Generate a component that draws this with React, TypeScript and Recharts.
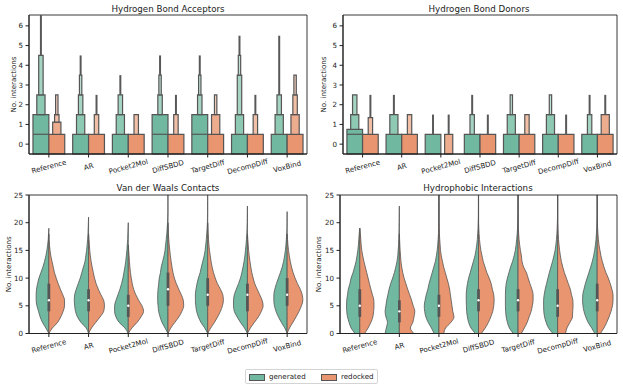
import React from "react";
import { ComposedChart, XAxis, YAxis, ReferenceArea, ReferenceLine, ReferenceDot, Area, Scatter } from "recharts";

const METHODS = ["Reference", "AR", "Pocket2Mol", "DiffSBDD", "TargetDiff", "DecompDiff", "VoxBind"];
const METHOD_TICKS = [0, 1, 2, 3, 4, 5, 6];
const COUNT_TICKS = [0, 1, 2, 3, 4, 5, 6];
const CONTACT_TICKS = [0, 5, 10, 15, 20, 25];

// letter-value boxes: upper edge of each level (level 0 = widest), null = level not drawn
const accGenTops = [[1.5, 2.5, 4.5], [0.5, 1.5, 2.5, 3.5], [0.5, 1.5, 2.5], [1.5, null, 2.5, 3.5], [1.5, null, 2.5, 3.5], [0.5, 1.5, 3.5, 4.5], [0.5, 1.5, 2.5]];
const accGenMax = [7, 4.5, 3.5, 4.5, 4.5, 5.5, 5.5];
const accGenMedian = [0.5, null, null, 0.5, 0.5, null, null];
const accRedTops = [[0.5, 1.12, 1.5, 2.5], [0.5, null, 1.5], [0.5, null, 1.5], [0.5, null, 1.5], [0.5, 1.5, null, 2.5], [0.5, null, 1.5], [0.5, 1.5, 2.5, 3.5]];
const accRedMax = [2.5, 2.5, 1.5, 2.5, 2.5, 2.5, 3.5];
const accRedMedian = [null, null, null, null, null, null, null];

const donGenTops = [[0.75, 1.5, 2.5], [0.5, 1.5], [0.5], [0.5, null, 1.5], [0.5, 1.5, null, 2.5], [0.5, 1.5, null, 2.5], [0.5, null, 1.5]];
const donGenMax = [2.5, 2.5, 1.5, 2.5, 2.5, 2.5, 2.5];
const donGenMedian = [0.5, null, null, null, null, null, null];
const donRedTops = [[0.5, null, 1.34], [0.5, null, 1.5], [null, 0.5], [0.5], [0.5, null, 1.5], [0.5], [0.5, 1.5]];
const donRedMax = [2.5, 1.5, 1.5, 1.5, 1.5, 1.5, 2.5];
const donRedMedian = [null, null, null, null, null, null, null];

// violin half widths (in category units) sampled at VIOLIN_Y
const VIOLIN_Y = [0, 1, 2, 3, 4, 5, 6, 7, 8, 9, 10, 11, 12, 13, 14, 15, 16, 17, 18, 19, 20, 21, 22, 23, 24, 25];

const vdwGen = [
  [0, 0.076, 0.16, 0.22, 0.26, 0.3, 0.32, 0.32, 0.31, 0.285, 0.25, 0.2, 0.15, 0.11, 0.075, 0.05, 0.03, 0.015, 0.008, 0],
  [0, 0.06, 0.19, 0.28, 0.33, 0.35, 0.36, 0.35, 0.31, 0.26, 0.21, 0.17, 0.13, 0.09, 0.07, 0.05, 0.035, 0.025, 0.015, 0.01, 0.005, 0],
  [0, 0.085, 0.23, 0.31, 0.345, 0.345, 0.31, 0.26, 0.21, 0.17, 0.135, 0.11, 0.085, 0.065, 0.05, 0.035, 0.025, 0.015, 0.01, 0.005, 0],
  [0, 0.075, 0.15, 0.2, 0.235, 0.25, 0.26, 0.26, 0.25, 0.235, 0.22, 0.19, 0.17, 0.135, 0.1, 0.075, 0.06, 0.045, 0.03, 0.02, 0.012, 0.006, 0.003, 0.003, 0.003, 0.003],
  [0, 0.075, 0.17, 0.235, 0.28, 0.3, 0.31, 0.31, 0.295, 0.27, 0.235, 0.19, 0.16, 0.125, 0.09, 0.065, 0.05, 0.035, 0.025, 0.015, 0.008, 0.004, 0.003, 0.003, 0.003, 0.003],
  [0, 0.075, 0.175, 0.26, 0.33, 0.35, 0.35, 0.33, 0.28, 0.225, 0.175, 0.14, 0.11, 0.085, 0.065, 0.05, 0.035, 0.025, 0.015, 0.01, 0.005, 0.003, 0.002, 0],
  [0, 0.06, 0.145, 0.22, 0.28, 0.32, 0.335, 0.335, 0.31, 0.27, 0.22, 0.17, 0.125, 0.09, 0.065, 0.045, 0.03, 0.02, 0.01, 0.005, 0.003, 0.002, 0],
];
const vdwRed = [
  [0, 0.09, 0.22, 0.3, 0.36, 0.395, 0.395, 0.35, 0.29, 0.235, 0.185, 0.14, 0.11, 0.08, 0.05, 0.03, 0.015, 0.005, 0],
  [0, 0.075, 0.18, 0.29, 0.38, 0.4, 0.38, 0.31, 0.245, 0.19, 0.15, 0.12, 0.09, 0.065, 0.045, 0.03, 0.02, 0.01, 0],
  [0, 0.09, 0.22, 0.32, 0.385, 0.345, 0.26, 0.19, 0.135, 0.1, 0.075, 0.055, 0.04, 0.03, 0.02, 0.01, 0],
  [0, 0.07, 0.17, 0.275, 0.35, 0.395, 0.385, 0.335, 0.27, 0.21, 0.16, 0.125, 0.1, 0.08, 0.06, 0.045, 0.03, 0.02, 0.01, 0.005, 0],
  [0, 0.075, 0.17, 0.25, 0.32, 0.37, 0.395, 0.38, 0.32, 0.245, 0.19, 0.145, 0.11, 0.085, 0.065, 0.045, 0.03, 0.02, 0.012, 0.006, 0],
  [0, 0.075, 0.175, 0.275, 0.35, 0.395, 0.37, 0.31, 0.245, 0.185, 0.145, 0.11, 0.085, 0.065, 0.045, 0.03, 0.02, 0.01, 0],
  [0, 0.06, 0.145, 0.225, 0.3, 0.36, 0.395, 0.38, 0.33, 0.26, 0.2, 0.15, 0.11, 0.08, 0.055, 0.035, 0.02, 0.01, 0],
];
const vdwQ1 = [4, 4, 3, 5, 5, 4, 5];
const vdwQ3 = [9, 8, 7, 11, 10, 9, 10];
const vdwMedian = [6, 6, 5, 8, 7, 7, 7];

const hydGen = [
  [0.12, 0.22, 0.27, 0.31, 0.33, 0.335, 0.33, 0.31, 0.29, 0.25, 0.22, 0.17, 0.13, 0.095, 0.07, 0.05, 0.035, 0.025, 0.015, 0],
  [0.36, 0.33, 0.3, 0.34, 0.36, 0.34, 0.32, 0.29, 0.26, 0.22, 0.17, 0.125, 0.09, 0.06, 0.04, 0.03, 0.02, 0.015, 0.01, 0.007, 0.005, 0.003, 0.002, 0],
  [0.12, 0.19, 0.27, 0.33, 0.36, 0.37, 0.35, 0.32, 0.28, 0.25, 0.21, 0.17, 0.13, 0.09, 0.065, 0.045, 0.03, 0.02, 0.012, 0.006, 0.004, 0.003, 0.003, 0.003, 0.003, 0.003],
  [0.08, 0.19, 0.25, 0.28, 0.3, 0.305, 0.31, 0.31, 0.3, 0.28, 0.25, 0.21, 0.17, 0.13, 0.09, 0.065, 0.045, 0.03, 0.02, 0.012, 0.008, 0.004, 0.003, 0.003, 0.003, 0.003],
  [0.12, 0.22, 0.27, 0.3, 0.315, 0.32, 0.32, 0.32, 0.315, 0.3, 0.27, 0.23, 0.19, 0.14, 0.1, 0.07, 0.05, 0.035, 0.022, 0.014, 0.008, 0.004, 0.003, 0.003, 0.003, 0.003],
  [0.12, 0.23, 0.29, 0.33, 0.35, 0.355, 0.355, 0.34, 0.315, 0.28, 0.245, 0.21, 0.17, 0.13, 0.095, 0.065, 0.045, 0.03, 0.02, 0.012, 0.007, 0.004, 0.003, 0.003, 0.003, 0.003],
  [0.06, 0.14, 0.23, 0.29, 0.335, 0.36, 0.37, 0.365, 0.335, 0.3, 0.255, 0.21, 0.165, 0.125, 0.09, 0.065, 0.045, 0.03, 0.02, 0.012, 0.007, 0.004, 0.003, 0.003, 0.003, 0.003],
];
const hydRed = [
  [0.12, 0.21, 0.28, 0.33, 0.35, 0.36, 0.355, 0.32, 0.28, 0.245, 0.21, 0.175, 0.14, 0.105, 0.075, 0.05, 0.035, 0.025, 0.015, 0],
  [0.37, 0.28, 0.34, 0.37, 0.39, 0.35, 0.31, 0.26, 0.21, 0.165, 0.12, 0.085, 0.06, 0.04, 0.03, 0.02, 0.012, 0.006, 0],
  [0.12, 0.17, 0.3, 0.38, 0.35, 0.33, 0.31, 0.29, 0.27, 0.24, 0.2, 0.16, 0.12, 0.09, 0.06, 0.04, 0.03, 0.02, 0.012, 0.006, 0.002, 0.002, 0.002, 0.002, 0.002, 0.002],
  [0.07, 0.17, 0.25, 0.31, 0.36, 0.385, 0.395, 0.385, 0.35, 0.32, 0.27, 0.21, 0.165, 0.12, 0.09, 0.06, 0.04, 0.025, 0.015, 0.008, 0.003, 0.003, 0.003, 0.003, 0.003, 0.003],
  [0.08, 0.16, 0.23, 0.28, 0.33, 0.36, 0.38, 0.38, 0.35, 0.3, 0.255, 0.21, 0.14, 0.1, 0.085, 0.06, 0.04, 0.025, 0.015, 0.008, 0.003, 0.003, 0.003, 0.003, 0.003, 0.003],
  [0.2, 0.235, 0.31, 0.375, 0.38, 0.39, 0.385, 0.35, 0.32, 0.27, 0.22, 0.17, 0.13, 0.095, 0.07, 0.05, 0.035, 0.022, 0.014, 0.008, 0.003, 0.003, 0.003, 0.003, 0.003, 0.003],
  [0.08, 0.17, 0.24, 0.3, 0.35, 0.385, 0.4, 0.4, 0.37, 0.33, 0.28, 0.22, 0.17, 0.13, 0.095, 0.07, 0.045, 0.03, 0.018, 0.01, 0.004, 0.004, 0.004, 0.004, 0.004, 0.004],
];
const hydQ1 = [3, 2, 3, 4, 4, 3, 4];
const hydQ3 = [8, 6, 7, 8, 8, 8, 9];
const hydMedian = [5, 4, 5, 6, 6, 5, 6];

const GEN_COLOR = "#70b8a0";
const RED_COLOR = "#e9956f";
const GEN_LEVELS = ["#70b8a0", "#8ec9b4", "#a6d5c4", "#bfe1d4"];
const RED_LEVELS = ["#e9956f", "#eeac8e", "#f2bfa7", "#f6d2c1"];
const LEVEL_SCALE = [1, 0.52, 0.28, 0.15];
const HUE_HALF = 0.2;
const EDGE = "#555555";
const AXIS = "#222222";
const FONT = "DejaVu Sans, sans-serif";

const methodRows = METHODS.map((name, i) => ({ x: i, name }));

const MethodTick = (props: any) => {
  const { x, y, payload } = props;
  const cy = y + 7;
  return (
    <text x={x} y={cy} transform={`rotate(-15, ${x}, ${cy})`} textAnchor="middle" dominantBaseline="central" fontSize={7.1} fill={AXIS}>
      {METHODS[payload.value]}
    </text>
  );
};

function boxenMarks(prefix: string, tops: (number | null)[][], maxes: number[], medians: (number | null)[], offset: number, colors: string[]) {
  const marks: any[] = [];
  tops.forEach((levels, i) => {
    const cx = i + offset;
    let base = -0.5;
    levels.forEach((top, k) => {
      if (top == null) return;
      const half = HUE_HALF * LEVEL_SCALE[k];
      marks.push(
        <ReferenceArea key={`${prefix}b${i}-${k}`} x1={cx - half} x2={cx + half} y1={base} y2={top} fill={colors[k]} fillOpacity={1} stroke={EDGE} strokeWidth={1.2} />
      );
      base = top;
    });
    const m = medians[i];
    if (m != null) {
      marks.push(
        <ReferenceLine key={`${prefix}m${i}`} segment={[{ x: cx - HUE_HALF, y: m }, { x: cx + HUE_HALF, y: m }]} stroke={EDGE} strokeWidth={1.2} />
      );
    }
    if (maxes[i] > base) {
      marks.push(
        <ReferenceLine key={`${prefix}w${i}`} segment={[{ x: cx, y: base }, { x: cx, y: maxes[i] }]} stroke="#585858" strokeWidth={2} ifOverflow="hidden" />
      );
    }
  });
  return marks;
}

type BoxenProps = {
  width: number;
  axisWidth: number;
  rightMargin: number;
  labelOffset: number;
  genTops: (number | null)[][];
  genMax: number[];
  genMedian: (number | null)[];
  redTops: (number | null)[][];
  redMax: number[];
  redMedian: (number | null)[];
};

const BoxenPanel = ({ width, axisWidth, rightMargin, labelOffset, genTops, genMax, genMedian, redTops, redMax, redMedian }: BoxenProps) => (
  <ComposedChart width={width} height={180} data={methodRows} margin={{ top: 15, right: rightMargin, bottom: 0, left: 0 }}>
    <XAxis type="number" dataKey="x" domain={[-0.5, 6.5]} ticks={METHOD_TICKS} interval={0} tick={(p: any) => <MethodTick {...p} />} height={26} tickSize={3.5} tickMargin={2} stroke={AXIS} allowDataOverflow />
    <YAxis type="number" domain={[-0.5, 6.55]} ticks={COUNT_TICKS} interval={0} width={axisWidth} tickSize={3.5} tickMargin={2.5} stroke={AXIS}
      tick={{ fontSize: 7.1, fill: AXIS }} allowDataOverflow
      label={{ value: "No. interactions", angle: -90, position: "insideLeft", offset: labelOffset, style: { textAnchor: "middle", fontSize: 7.1, fill: AXIS } }} />
    <Scatter dataKey="x" fill="none" isAnimationActive={false} />
    {boxenMarks("g", genTops, genMax, genMedian, -HUE_HALF, GEN_LEVELS)}
    {boxenMarks("r", redTops, redMax, redMedian, HUE_HALF, RED_LEVELS)}
    <ReferenceArea x1={-0.5} x2={6.5} y1={-0.5} y2={6.55} fill="none" stroke={AXIS} strokeWidth={0.9} ifOverflow="visible" />
  </ComposedChart>
);

function halfRows(widths: number[], center: number, sign: number) {
  return widths.map((w, r) => ({ y: VIOLIN_Y[r], w: [center, center + sign * w] }));
}

type ViolinProps = {
  width: number;
  axisWidth: number;
  rightMargin: number;
  labelOffset: number;
  gen: number[][];
  red: number[][];
  q1: number[];
  q3: number[];
  median: number[];
};

const ViolinPanel = ({ width, axisWidth, rightMargin, labelOffset, gen, red, q1, q3, median }: ViolinProps) => (
  <ComposedChart layout="vertical" width={width} height={180} margin={{ top: 15, right: rightMargin, bottom: 0, left: 0 }}>
    <XAxis type="number" domain={[-0.5, 6.5]} ticks={METHOD_TICKS} interval={0} tick={(p: any) => <MethodTick {...p} />} height={26.5} tickSize={3.5} tickMargin={2} stroke={AXIS} allowDataOverflow />
    <YAxis type="number" dataKey="y" reversed domain={[0, 25]} ticks={CONTACT_TICKS} interval={0} width={axisWidth} tickSize={3.5} tickMargin={2.5} stroke={AXIS}
      tick={{ fontSize: 7.1, fill: AXIS }} allowDataOverflow
      label={{ value: "No. interactions", angle: -90, position: "insideLeft", offset: labelOffset, style: { textAnchor: "middle", fontSize: 7.1, fill: AXIS } }} />
    {gen.map((w, i) => (
      <Area key={`vg${i}`} data={halfRows(w, i, -1)} dataKey="w" type="monotone" fill={GEN_COLOR} fillOpacity={1} stroke={EDGE} strokeWidth={0.8} dot={false} activeDot={false} isAnimationActive={false} />
    ))}
    {red.map((w, i) => (
      <Area key={`vr${i}`} data={halfRows(w, i, 1)} dataKey="w" type="monotone" fill={RED_COLOR} fillOpacity={1} stroke={EDGE} strokeWidth={0.8} dot={false} activeDot={false} isAnimationActive={false} />
    ))}
    {METHODS.map((_, i) => (
      <ReferenceArea key={`ib${i}`} x1={i - 0.035} x2={i + 0.035} y1={q1[i]} y2={q3[i]} fill="#555555" fillOpacity={1} stroke="none" />
    ))}
    {METHODS.map((_, i) => (
      <ReferenceDot key={`md${i}`} x={i} y={median[i]} r={1.2} fill="#ffffff" stroke="none" />
    ))}
    <ReferenceArea x1={-0.5} x2={6.5} y1={0} y2={25} fill="none" stroke={AXIS} strokeWidth={0.9} ifOverflow="visible" />
  </ComposedChart>
);

const titleStyle = (left: number, top: number): React.CSSProperties => ({
  position: "absolute", left, top, width: 278, textAlign: "center", fontSize: 8.7, lineHeight: "12px", color: AXIS, whiteSpace: "nowrap",
});

export default function App() {
  return (
    <div style={{ position: "absolute", left: 0, top: 0, width: 623, height: 388, background: "#fff", fontFamily: FONT, overflow: "hidden" }}>
      <div style={titleStyle(29, 3)}>Hydrogen Bond Acceptors</div>
      <div style={titleStyle(340, 3)}>Hydrogen Bond Donors</div>
      <div style={titleStyle(29, 182)}>Van der Waals Contacts</div>
      <div style={titleStyle(339, 182)}>Hydrophobic Interactions</div>
      <div style={{ position: "absolute", left: 0, top: 0 }}>
        <BoxenPanel width={312} axisWidth={29} rightMargin={5} labelOffset={13.5} genTops={accGenTops} genMax={accGenMax} genMedian={accGenMedian} redTops={accRedTops} redMax={accRedMax} redMedian={accRedMedian} />
      </div>
      <div style={{ position: "absolute", left: 312, top: 0 }}>
        <BoxenPanel width={311} axisWidth={31} rightMargin={6} labelOffset={11.7} genTops={donGenTops} genMax={donGenMax} genMedian={donGenMedian} redTops={donRedTops} redMax={donRedMax} redMedian={donRedMedian} />
      </div>
      <div style={{ position: "absolute", left: 0, top: 180 }}>
        <ViolinPanel width={312} axisWidth={29} rightMargin={5} labelOffset={8.3} gen={vdwGen} red={vdwRed} q1={vdwQ1} q3={vdwQ3} median={vdwMedian} />
      </div>
      <div style={{ position: "absolute", left: 312, top: 180 }}>
        <ViolinPanel width={311} axisWidth={28} rightMargin={6} labelOffset={6} gen={hydGen} red={hydRed} q1={hydQ1} q3={hydQ3} median={hydMedian} />
      </div>
      <div style={{ position: "absolute", left: 245, top: 369, width: 131, height: 13, border: "1px solid #d4d4d4", borderRadius: 2, fontSize: 7.1, color: AXIS }}>
        <span style={{ position: "absolute", left: 3, top: 3.5, width: 14, height: 5, background: GEN_COLOR, border: `0.8px solid ${EDGE}` }} />
        <span style={{ position: "absolute", left: 23, top: 1, lineHeight: "11px" }}>generated</span>
        <span style={{ position: "absolute", left: 75, top: 3.5, width: 14, height: 5, background: RED_COLOR, border: `0.8px solid ${EDGE}` }} />
        <span style={{ position: "absolute", left: 95, top: 1, lineHeight: "11px" }}>redocked</span>
      </div>
    </div>
  );
}
